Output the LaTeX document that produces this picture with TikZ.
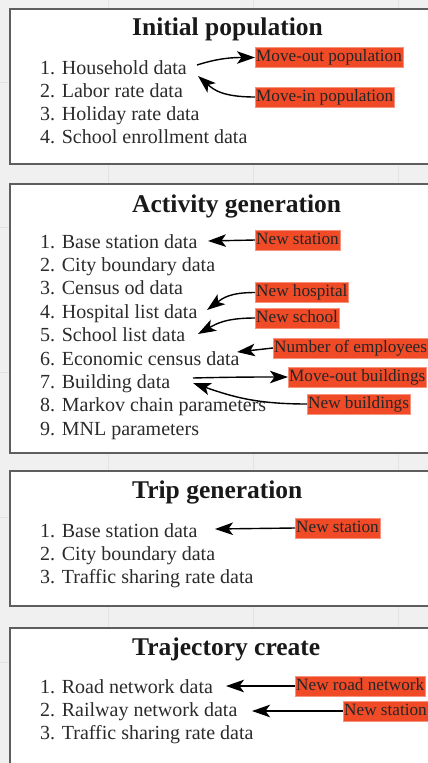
\documentclass[tikz,border=0pt]{standalone}
\usepackage{fontspec}
\setmainfont{Liberation Serif}
\usetikzlibrary{arrows.meta}
\definecolor{bg}{HTML}{F0F0F0}
\definecolor{gridc}{HTML}{E3E3E3}
\definecolor{boxline}{HTML}{5E5E5E}
\definecolor{lab}{HTML}{F04A26}
\definecolor{txt}{HTML}{2B2B2B}
\tikzset{
 panel/.style={draw=boxline, line width=2pt, fill=white},
 ttl/.style={anchor=base west, inner sep=0pt, font=\fontsize{25.5}{28}\selectfont\bfseries, text=black!90},
 itm/.style={anchor=base west, inner sep=0pt, font=\fontsize{20}{23}\selectfont, text=txt},
 lbl/.style={anchor=west, fill=lab, draw=lab!60!white, line width=0.4pt, inner xsep=1pt, inner ysep=1.5pt, text height=12.5pt, text depth=4.5pt, font=\fontsize{17.2}{19}\selectfont, text=black!85},
 conn/.style={-{Stealth[length=18pt,width=12.5pt,inset=4.5pt]}, line width=1.4pt, black},
}
\begin{document}
\begin{tikzpicture}[x=1pt,y=-1pt]
\useasboundingbox (0,0) rectangle (428,763);
\clip (0,0) rectangle (428,763);
\fill[bg] (0,0) rectangle (428,763);
\foreach \x in {108,253,398} \draw[gridc, line width=1pt] (\x,0) -- (\x,763);
\foreach \y in {82,227,372,517,662} \draw[gridc,line width=1pt] (0,\y) -- (428,\y);

\draw[panel] (10,9) rectangle (445,164);
\draw[panel] (10,184) rectangle (445,453);
\draw[panel] (10,471) rectangle (445,606);
\draw[panel] (10,628) rectangle (445,790);

% titles
\node[ttl] (t1) at (132,35) {Initial population};
\node[ttl] (t2) at (132,212) {Activity generation};
\node[ttl] (t3) at (132,498) {Trip generation};
\node[ttl] (t4) at (132,655) {Trajectory create};

% box 1 items
\node[itm] (a1) at (40,74) {1. Household data};
\node[itm] (a2) at (40,97) {2. Labor rate data};
\node[itm] (a3) at (40,120) {3. Holiday rate data};
\node[itm] (a4) at (40,143) {4. School enrollment data};

% box 2 items
\node[itm] (b1) at (40,248) {1. Base station data};
\node[itm] (b2) at (40,271.4) {2. City boundary data};
\node[itm] (b3) at (40,294.8) {3. Census od data};
\node[itm] (b4) at (40,318.2) {4. Hospital list data};
\node[itm] (b5) at (40,341.6) {5. School list data};
\node[itm] (b6) at (40,365) {6. Economic census data};
\node[itm] (b7) at (40,388.4) {7. Building data};
\node[itm] (b8) at (40,411.8) {8. Markov chain parameters};
\node[itm] (b9) at (40,435.2) {9. MNL parameters};

% box 3 items
\node[itm] (c1) at (40,537) {1. Base station data};
\node[itm] (c2) at (40,560) {2. City boundary data};
\node[itm] (c3) at (40,583) {3. Traffic sharing rate data};

% box 4 items
\node[itm] (d1) at (40,693) {1. Road network data};
\node[itm] (d2) at (40,716) {2. Railway network data};
\node[itm] (d3) at (40,739) {3. Traffic sharing rate data};

% labels
\node[lbl] (mo) at (255,57.5) {Move-out population};
\node[lbl] (mi) at (255,97) {Move-in population};
\node[lbl] (ns1) at (255,240) {New station};
\node[lbl] (nh) at (255,292.5) {New hospital};
\node[lbl] (nsc) at (255,318) {New school};
\node[lbl] (ne) at (273,348) {Number of employees};
\node[lbl] (mob) at (288,377) {Move-out buildings};
\node[lbl] (nb) at (307,404) {New buildings};
\node[lbl] (ns2) at (295,528) {New station};
\node[lbl] (nrn) at (295,686) {New road network};
\node[lbl] (ns3) at (343,711) {New station};

% connector ends
\coordinate (e1) at (197,65);
\coordinate (e2) at (198,76);
\coordinate (e3) at (208,241);
\coordinate (e4) at (207,310);
\coordinate (e5) at (198,334);
\coordinate (e6) at (237,352);
\coordinate (e7) at (193,378);
\coordinate (e8) at (193,383);
\coordinate (e9) at (215,529);
\coordinate (e10) at (226,686);
\coordinate (e11) at (252,711);

\draw[conn] (e1) .. controls +(22,-7) and +(-22,0) .. (mo.west);
\draw[conn] (mi.west) .. controls +(-32,0) and +(16,14) .. (e2);
\draw[conn] (ns1.west) -- (e3);
\draw[conn] (nh.west) .. controls +(-25,0) and +(16,-12) .. (e4);
\draw[conn] (nsc.west) .. controls +(-30,0) and +(18,-10) .. (e5);
\draw[conn] (ne.west) -- (e6);
\draw[conn] (e7) .. controls +(40,-1) and +(-30,0) .. (mob.west);
\draw[conn] (nb.west) .. controls +(-50,0) and +(40,14) .. (e8);
\draw[conn] (ns2.west) -- (e9);
\draw[conn] (nrn.west) -- (e10);
\draw[conn] (ns3.west) -- (e11);
\end{tikzpicture}
\end{document}
